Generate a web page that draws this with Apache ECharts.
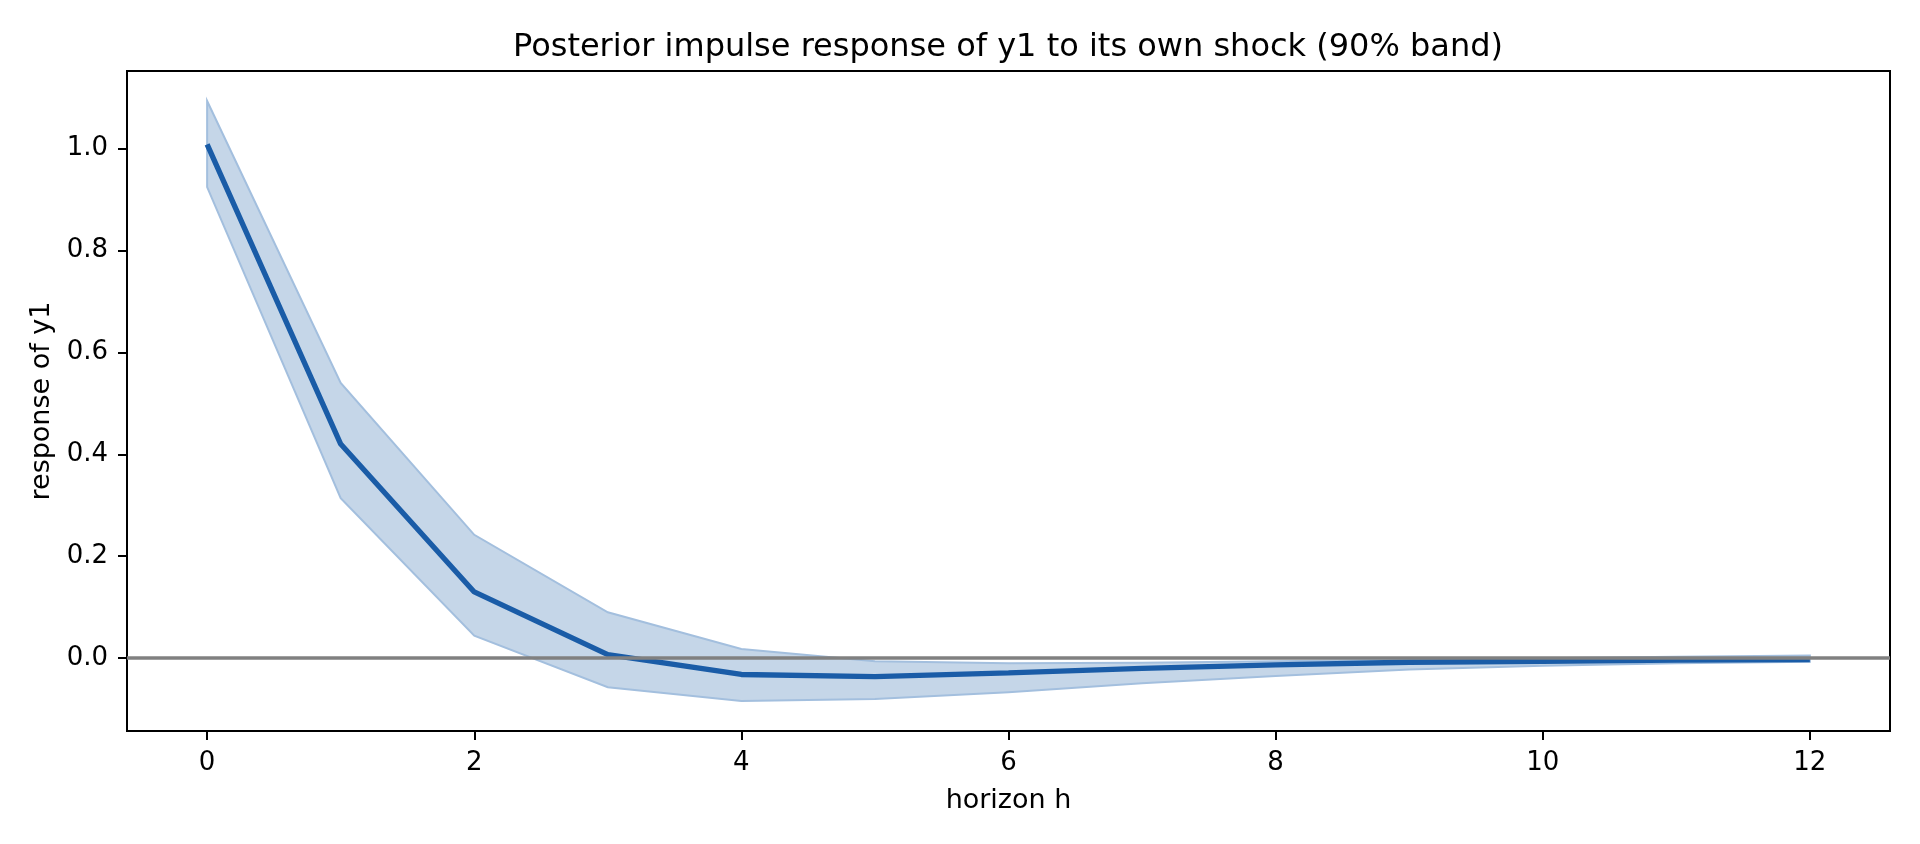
<!DOCTYPE html>
<html>
<head>
<meta charset="utf-8">
<script src="https://cdn.jsdelivr.net/npm/echarts@6/dist/echarts.min.js"></script>
<style>
  html, body { margin: 0; padding: 0; background: #fff; }
  #chart { width: 1920px; height: 844px; }
</style>
</head>
<body>
<div id="chart"></div>
<script>
const horizon = [0, 1, 2, 3, 4, 5, 6, 7, 8, 9, 10, 11, 12];
const median = [1.008, 0.420, 0.130, 0.007, -0.032, -0.036, -0.029, -0.020, -0.013, -0.008, -0.006, -0.004, -0.003];
const upper  = [1.093, 0.540, 0.242, 0.090, 0.018, -0.006, -0.010, -0.009, -0.006, -0.003, 0.000, 0.003, 0.005];
const lower  = [0.924, 0.314, 0.044, -0.057, -0.084, -0.080, -0.067, -0.049, -0.035, -0.022, -0.015, -0.010, -0.007];
const xTicks = [0, 2, 4, 6, 8, 10, 12];
const yTicks = [0.0, 0.2, 0.4, 0.6, 0.8, 1.0];
const titleText = 'Posterior impulse response of y1 to its own shock (90% band)';
const xLabel = 'horizon h';
const yLabel = 'response of y1';

// matplotlib-like 5% margins
const xMinD = Math.min(...horizon), xMaxD = Math.max(...horizon);
const xPad = (xMaxD - xMinD) * 0.05;
const yMinD = Math.min(...lower, ...median), yMaxD = Math.max(...upper, ...median);
const yPad = (yMaxD - yMinD) * 0.05;

const FONT = 'DejaVu Sans';
const TICK_FS = 26;

const chart = echarts.init(document.getElementById('chart'), null, { renderer: 'canvas' });

const bandPoints = horizon.map((h, i) => [h, lower[i], upper[i]]);

chart.setOption({
  animation: false,
  backgroundColor: '#fff',
  title: {
    text: titleText,
    left: 1008, top: 32, textAlign: 'center', padding: 0,
    textStyle: { fontFamily: FONT, fontSize: 32, fontWeight: 'normal', color: '#000' }
  },
  grid: {
    left: 127, right: 30, top: 71, bottom: 113,
    show: true, borderColor: '#000', borderWidth: 2, backgroundColor: 'transparent'
  },
  xAxis: {
    type: 'value', min: xMinD - xPad, max: xMaxD + xPad,
    name: xLabel, nameLocation: 'middle', nameGap: 56,
    nameTextStyle: { fontFamily: FONT, fontSize: 27, color: '#000' },
    axisLine: { show: false, onZero: false },
    axisTick: { show: true, inside: false, length: 9, lineStyle: { color: '#000', width: 2 }, customValues: xTicks },
    axisLabel: { show: true, margin: 19, fontFamily: FONT, fontSize: TICK_FS, color: '#000', customValues: xTicks, formatter: v => String(v) },
    splitLine: { show: false }
  },
  yAxis: {
    type: 'value', min: yMinD - yPad, max: yMaxD + yPad,
    name: yLabel, nameLocation: 'middle', nameGap: 72, nameRotate: 90,
    nameTextStyle: { fontFamily: FONT, fontSize: 27, color: '#000' },
    axisLine: { show: false, onZero: false },
    axisTick: { show: true, inside: false, length: 9, lineStyle: { color: '#000', width: 2 }, customValues: yTicks },
    axisLabel: { show: true, margin: 19, fontFamily: FONT, fontSize: TICK_FS, color: '#000', customValues: yTicks, formatter: v => v.toFixed(1) },
    splitLine: { show: false }
  },
  series: [
    {
      type: 'custom',
      z: 1,
      data: bandPoints,
      renderItem: function (params, api) {
        if (params.dataIndex !== 0) return null;
        const up = bandPoints.map(p => api.coord([p[0], p[2]]));
        const lo = bandPoints.map(p => api.coord([p[0], p[1]])).reverse();
        return {
          type: 'polygon',
          shape: { points: up.concat(lo) },
          style: { fill: 'rgb(197,214,232)', stroke: 'rgb(163,191,222)', lineWidth: 2 }
        };
      },
      silent: true
    },
    {
      type: 'line',
      z: 3,
      data: horizon.map((h, i) => [h, median[i]]),
      symbol: 'none',
      lineStyle: { color: '#1a5ca7', width: 5.3 },
      silent: true
    },
    {
      type: 'line',
      z: 5,
      data: [],
      symbol: 'none',
      silent: true,
      markLine: {
        silent: true, symbol: 'none', animation: false,
        label: { show: false },
        lineStyle: { color: '#808080', width: 3.5, type: 'solid' },
        data: [{ yAxis: 0 }]
      }
    }
  ]
});
</script>
</body>
</html>
